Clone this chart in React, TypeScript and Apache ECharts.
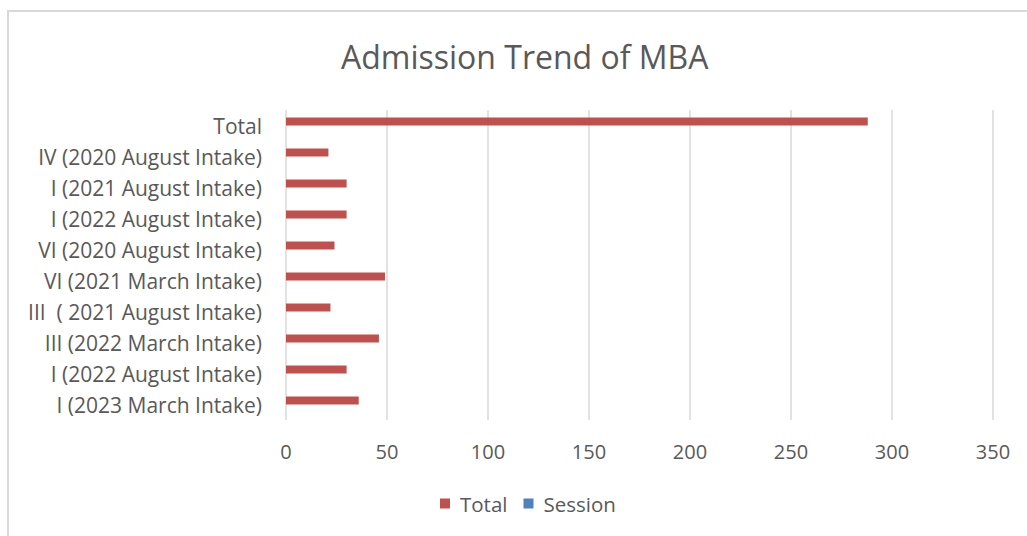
import React, { useEffect, useRef } from "react";
import * as echarts from "echarts";

const categories = [
  "I (2023 March Intake)",
  "I (2022 August Intake)",
  "III (2022 March Intake)",
  "III  ( 2021 August Intake)",
  "VI (2021 March Intake)",
  "VI (2020 August Intake)",
  "I (2022 August Intake)",
  "I (2021 August Intake)",
  "IV (2020 August Intake)",
  "Total",
];
const totalValues = [36, 30, 46, 22, 49, 24, 30, 30, 21, 288];
const sessionValues: (number | null)[] = [null, null, null, null, null, null, null, null, null, null];
const xTicks = [0, 50, 100, 150, 200, 250, 300, 350];

const FONT = "'Open Sans', 'Noto Sans', sans-serif";
const TEXT = "#595959";

export default function App() {
  const ref = useRef<HTMLDivElement>(null);
  useEffect(() => {
    if (!ref.current) return;
    const chart = echarts.init(ref.current, undefined, { renderer: "svg" });
    chart.setOption({
      animation: false,
      backgroundColor: "#ffffff",
      textStyle: { fontFamily: FONT },
      title: {
        text: "Admission Trend of MBA",
        left: 336,
        top: 35,
        textStyle: { fontFamily: FONT, fontSize: 32, fontWeight: "normal", color: TEXT },
      },
      graphic: [
        {
          type: "rect",
          shape: { x: 8, y: 11, width: 1100, height: 700 },
          style: { fill: "none", stroke: "#d9d9d9", lineWidth: 2 },
          silent: true,
          z: -1,
        },
      ],
      legend: {
        bottom: 17,
        left: 435,
        itemWidth: 10,
        itemHeight: 10,
        itemGap: 16,
        icon: "rect",
        textStyle: { fontFamily: FONT, fontSize: 20.5, color: TEXT, padding: [0, 0, 0, 5] },
        data: ["Total", "Session"],
      },
      grid: { left: 286, right: 34, top: 110, bottom: 116, containLabel: false },
      xAxis: {
        type: "value",
        min: xTicks[0],
        max: xTicks[xTicks.length - 1],
        interval: 50,
        axisLine: { show: false },
        axisTick: { show: false },
        axisLabel: { fontFamily: FONT, fontSize: 20, color: TEXT, margin: 21 },
        splitLine: { lineStyle: { color: "#d9d9d9", width: 1.5 } },
      },
      yAxis: {
        type: "category",
        data: categories,
        axisLine: { show: false },
        axisTick: { show: false },
        axisLabel: { fontFamily: FONT, fontSize: 21, color: TEXT, margin: 24 },
      },
      series: [
        {
          name: "Total",
          type: "bar",
          data: totalValues,
          barWidth: 8,
          barGap: "0%",
          itemStyle: { color: "#C0504D" },
        },
        {
          name: "Session",
          type: "bar",
          data: sessionValues,
          barWidth: 8,
          barGap: "0%",
          itemStyle: { color: "#4F81BD" },
        },
      ],
    });
    return () => chart.dispose();
  }, []);
  return (
    <div
      ref={ref}
      style={{ position: "fixed", left: 0, top: 0, width: 1027, height: 536 }}
    />
  );
}
